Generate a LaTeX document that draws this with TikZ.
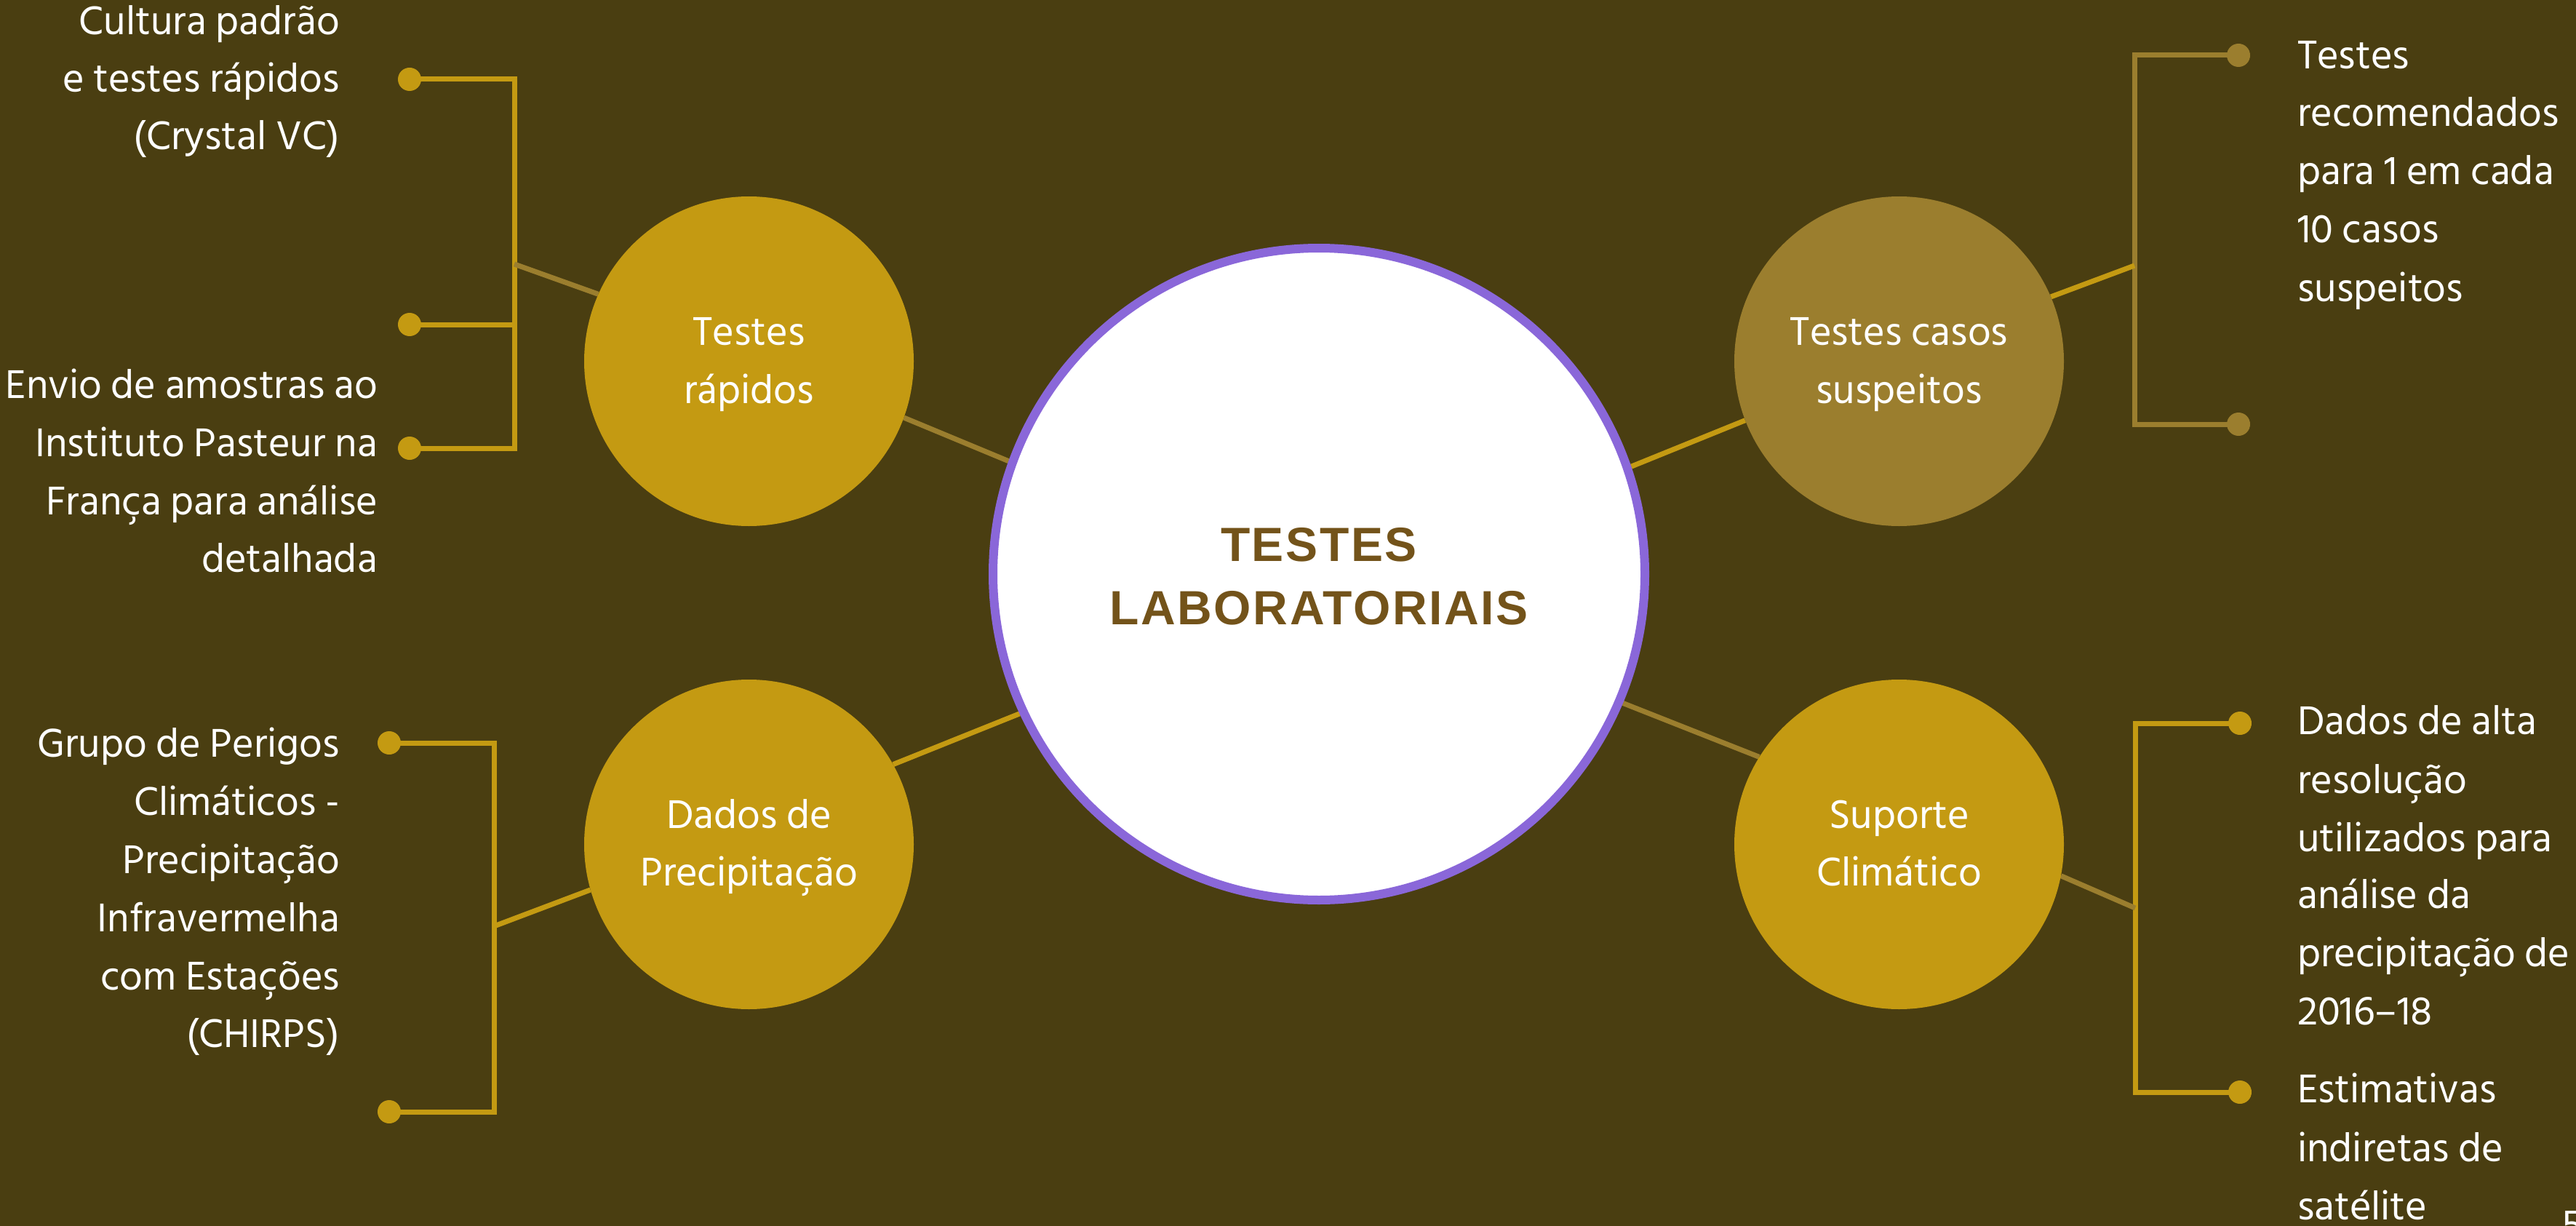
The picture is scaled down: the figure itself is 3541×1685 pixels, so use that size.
\documentclass[tikz,border=0pt]{standalone}
\usepackage{fontspec}
\setmainfont{Hind Siliguri}
\newfontfamily\titlefont[LetterSpace=4]{Liberation Sans}
\usetikzlibrary{calc}
\definecolor{bgc}{HTML}{4A3E11}
\definecolor{goldc}{HTML}{C49A12}
\definecolor{darkc}{HTML}{9B7E2E}
\definecolor{purp}{HTML}{8A67D9}
\definecolor{titlec}{HTML}{73531A}
\pgfdeclarelayer{back}
\pgfdeclarelayer{lines}
\pgfsetlayers{back,lines,main}
\tikzset{
  bodytext/.style={text=white, inner sep=0pt, font=\fontsize{56.5}{80}\selectfont},
  lblR/.style={bodytext, anchor=base east},
  lblL/.style={bodytext, anchor=base west},
  lblC/.style={bodytext, anchor=base},
  titletext/.style={text=titlec, inner sep=0pt, anchor=base, font=\titlefont\bfseries\fontsize{66}{80}\selectfont},
  subcirc/.style={circle, minimum size=453pt, inner sep=0pt},
  dotg/.style={circle, fill=goldc, minimum size=32pt, inner sep=0pt},
  dotd/.style={circle, fill=darkc, minimum size=32pt, inner sep=0pt},
  goldln/.style={draw=goldc, line width=7pt},
  darkln/.style={draw=darkc, line width=7pt},
}
\begin{document}
\begin{tikzpicture}[x=1pt,y=-1pt]
\begin{pgfonlayer}{back}
\fill[bgc] (0,0) rectangle (3541,1685);
\end{pgfonlayer}
\useasboundingbox (0,0) rectangle (3541,1685);

% circles
\node[circle, draw=purp, line width=12pt, fill=white, minimum size=896pt, inner sep=0pt] (central) at (1813,789) {};
\node[subcirc, fill=goldc] (rapidos) at (1029.5,496.5) {};
\node[subcirc, fill=darkc] (casos) at (2610.5,496.5) {};
\node[subcirc, fill=goldc] (dados) at (1029.5,1160.5) {};
\node[subcirc, fill=goldc] (suporte) at (2610.5,1160.5) {};

% dots
\node[dotg] (tl1) at (563,109) {};
\node[dotg] (tl2) at (563,446) {};
\node[dotg] (tl3) at (563,616) {};
\node[dotd] (tr1) at (3077,76) {};
\node[dotd] (tr2) at (3077,583) {};
\node[dotg] (bl1) at (535,1021) {};
\node[dotg] (bl2) at (535,1528) {};
\node[dotg] (br1) at (3079,994) {};
\node[dotg] (br2) at (3079,1501) {};

% bracket corners and junctions
\coordinate (tlA) at (707,109);
\coordinate (tlM) at (707,446);
\coordinate (tlB) at (707,616);
\coordinate (tlJ) at (707,363);
\coordinate (trA) at (2934,76);
\coordinate (trB) at (2934,583);
\coordinate (trJ) at (2934,365);
\coordinate (blA) at (679,1021);
\coordinate (blB) at (679,1528);
\coordinate (blJ) at (679,1273);
\coordinate (brA) at (2935,994);
\coordinate (brB) at (2935,1501);
\coordinate (brJ) at (2935,1248);

\begin{pgfonlayer}{lines}
\draw[darkln] (central.160) -- (rapidos.-20);
\draw[goldln] (central.205) -- (dados.29);
\draw[goldln] (central.19) -- (casos.201);
\draw[darkln] (central.-23) -- (suporte.148);

\draw[goldln] (tl1.center) -- (tlA) -- (tlB) -- (tl3.center);
\draw[goldln] (tl2.center) -- (tlM);
\draw[darkln] (tlJ) -- (rapidos.156);

\draw[darkln] (tr1.center) -- (trA) -- (trB) -- (tr2.center);
\draw[goldln] (casos.23) -- (trJ);

\draw[goldln] (bl1.center) -- (blA) -- (blB) -- (bl2.center);
\draw[goldln] (blJ) -- (dados.196);

\draw[goldln] (br1.center) -- (brA) -- (brB) -- (br2.center);
\draw[darkln] (suporte.-11) -- (brJ);
\end{pgfonlayer}

% title
\node[titletext] (t1) at (1813,771.5) {TESTES};
\node[titletext] (t2) at (1813,858.5) {LABORATORIAIS};

% circle labels
\node[lblC] (r1) at (1029.5,474) {Testes};
\node[lblC] (r2) at (1029.5,554) {rápidos};
\node[lblC] (c1) at (2610.5,474) {Testes casos};
\node[lblC] (c2) at (2610.5,554) {suspeitos};
\node[lblC] (p1) at (1029.5,1138) {Dados de};
\node[lblC] (p2) at (1029.5,1217) {Precipitação};
\node[lblC] (s1) at (2610.5,1138) {Suporte};
\node[lblC] (s2) at (2610.5,1217) {Climático};

% top-left texts
\node[lblR] (a1) at (467,48) {Cultura padrão};
\node[lblR] (a2) at (467,127) {e testes rápidos};
\node[lblR] (a3) at (467,206) {(Crystal VC)};
\node[lblR] (b1) at (519,547) {Envio de amostras ao};
\node[lblR] (b2) at (519,627) {Instituto Pasteur na};
\node[lblR] (b3) at (519,707) {França para análise};
\node[lblR] (b4) at (519,786) {detalhada};

% bottom-left texts
\node[lblR] (g1) at (467,1040) {Grupo de Perigos};
\node[lblR] (g2) at (467,1120) {Climáticos -};
\node[lblR] (g3) at (467,1200) {Precipitação};
\node[lblR] (g4) at (467,1280) {Infravermelha};
\node[lblR] (g5) at (467,1360) {com Estações};
\node[lblR] (g6) at (467,1439) {(CHIRPS)};

% top-right texts
\node[lblL] (h1) at (3158,95) {Testes};
\node[lblL] (h2) at (3158,174) {recomendados};
\node[lblL] (h3) at (3158,254) {para 1 em cada};
\node[lblL] (h4) at (3158,334) {10 casos};
\node[lblL] (h5) at (3158,414) {suspeitos};

% bottom-right texts
\node[lblL] (k1) at (3158,1009) {Dados de alta};
\node[lblL] (k2) at (3158,1090) {resolução};
\node[lblL] (k3) at (3158,1170) {utilizados para};
\node[lblL] (k4) at (3158,1248) {análise da};
\node[lblL] (k5) at (3158,1328) {precipitação de};
\node[lblL] (k6) at (3158,1408) {2016–18};
\node[lblL] (m1) at (3158,1515) {Estimativas};
\node[lblL] (m2) at (3158,1596) {indiretas de};
\node[lblL] (m3) at (3158,1676) {satélite};

% page number (cut off)
\node[lblL] (pg) at (3521,1701) {5};
\end{tikzpicture}
\end{document}
